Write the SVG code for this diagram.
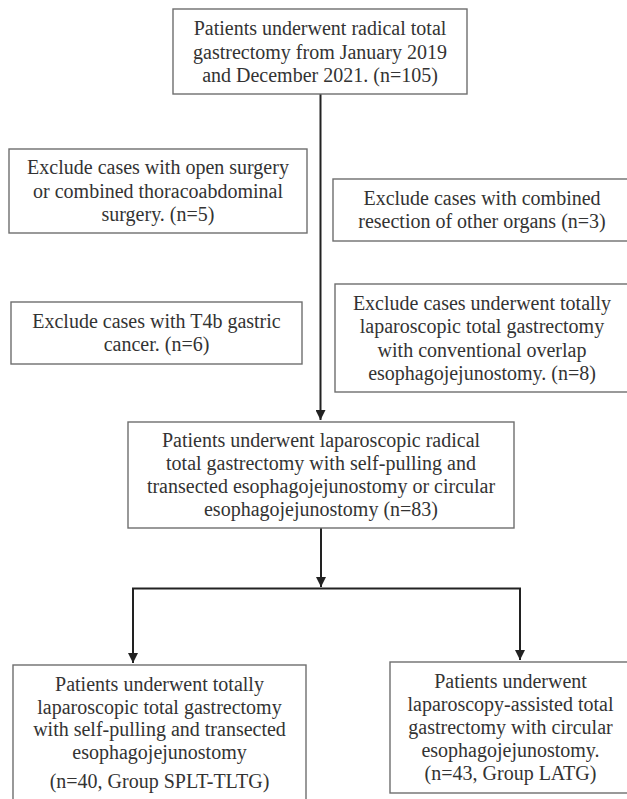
<svg xmlns="http://www.w3.org/2000/svg" width="627" height="799" viewBox="0 0 627 799">
<style>
.box{fill:#fff;stroke:#6e6e6e;stroke-width:1.4}
.t{font-family:'Liberation Serif',Tinos,'Times New Roman','DejaVu Serif',serif;font-size:20px;fill:#333;text-anchor:middle}
.c{fill:none;stroke:#222;stroke-width:2}
</style>
<defs>
<marker id="ah" markerWidth="10" markerHeight="10" refX="10" refY="5" orient="auto" markerUnits="userSpaceOnUse">
<path d="M0,0 L10,5 L0,10 z" fill="#222"/>
</marker>
</defs>
<rect width="627" height="799" fill="#fff"/>
<g id="connectors">
<line class="c" x1="320.5" y1="94" x2="320.5" y2="420" marker-end="url(#ah)"/>
<line class="c" x1="321" y1="528" x2="321" y2="587" marker-end="url(#ah)"/>
<polyline class="c" points="133,662 133,588.5 520,588.5 520,660"/>
<line class="c" x1="133" y1="600" x2="133" y2="663" marker-end="url(#ah)"/>
<line class="c" x1="520" y1="600" x2="520" y2="660" marker-end="url(#ah)"/>
</g>
<g id="n_start" font-family="Liberation Serif, serif">
<rect class="box" x="173" y="9" width="294" height="85"/>
<text class="t" x="320" y="35">Patients underwent radical total</text>
<text class="t" x="320" y="58.5">gastrectomy from January 2019</text>
<text class="t" x="320" y="82">and December 2021. (n=105)</text>
</g>
<g id="n_ex_open">
<rect class="box" x="9" y="149" width="298" height="84"/>
<text class="t" x="158" y="174">Exclude cases with open surgery</text>
<text class="t" x="158" y="197.5">or combined thoracoabdominal</text>
<text class="t" x="158" y="221">surgery. (n=5)</text>
</g>
<g id="n_ex_organs">
<rect class="box" x="333" y="179" width="300" height="62"/>
<text class="t" x="482" y="204.5">Exclude cases with combined</text>
<text class="t" x="482" y="228">resection of other organs (n=3)</text>
</g>
<g id="n_ex_t4b">
<rect class="box" x="11" y="302" width="291" height="62"/>
<text class="t" x="156.5" y="327.5">Exclude cases with T4b gastric</text>
<text class="t" x="156.5" y="351">cancer. (n=6)</text>
</g>
<g id="n_ex_overlap">
<rect class="box" x="335" y="284" width="298" height="108"/>
<text class="t" x="482" y="309.5">Exclude cases underwent totally</text>
<text class="t" x="482" y="333">laparoscopic total gastrectomy</text>
<text class="t" x="482" y="356.5">with conventional overlap</text>
<text class="t" x="482" y="380">esophagojejunostomy. (n=8)</text>
</g>
<g id="n_mid">
<rect class="box" x="128" y="422" width="386" height="106"/>
<text class="t" x="321" y="447">Patients underwent laparoscopic radical</text>
<text class="t" x="321" y="470">total gastrectomy with self-pulling and</text>
<text class="t" x="321" y="493">transected esophagojejunostomy or circular</text>
<text class="t" x="321" y="516">esophagojejunostomy (n=83)</text>
</g>
<g id="n_spl">
<rect class="box" x="13" y="665" width="293" height="150"/>
<text class="t" x="159.5" y="691">Patients underwent totally</text>
<text class="t" x="159.5" y="713.5">laparoscopic total gastrectomy</text>
<text class="t" x="159.5" y="736">with self-pulling and transected</text>
<text class="t" x="159.5" y="758.5">esophagojejunostomy</text>
<text class="t" x="159.5" y="788">(n=40, Group SPLT-TLTG)</text>
</g>
<g id="n_latg">
<rect class="box" x="390" y="662" width="243" height="131"/>
<text class="t" x="510.5" y="688">Patients underwent</text>
<text class="t" x="510.5" y="711">laparoscopy-assisted total</text>
<text class="t" x="510.5" y="734">gastrectomy with circular</text>
<text class="t" x="510.5" y="757">esophagojejunostomy.</text>
<text class="t" x="510.5" y="780">(n=43, Group LATG)</text>
</g>
</svg>
